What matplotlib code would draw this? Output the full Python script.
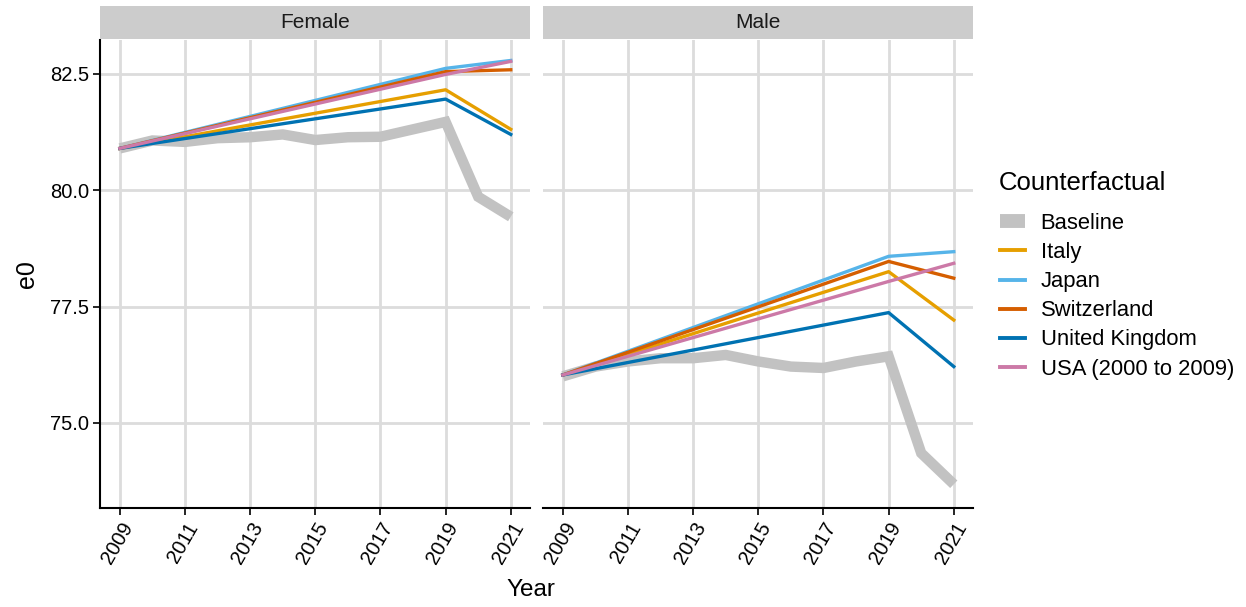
import matplotlib
matplotlib.use("Agg")
import matplotlib.pyplot as plt
from matplotlib.lines import Line2D
from matplotlib.patches import Rectangle

plt.rcParams['font.family'] = ['Liberation Sans', 'DejaVu Sans']

# Observed life expectancy at birth (baseline)
years = [2009, 2010, 2011, 2012, 2013, 2014, 2015, 2016, 2017, 2018, 2019, 2020, 2021]
baseline_female = [80.90, 81.07, 81.04, 81.12, 81.14, 81.20, 81.08, 81.14, 81.15, 81.31, 81.47, 79.86, 79.43]
baseline_male = [76.00, 76.21, 76.32, 76.39, 76.39, 76.46, 76.32, 76.21, 76.18, 76.32, 76.43, 74.35, 73.68]

# Counterfactual trajectories
cf_years = [2009, 2019, 2021]
countries = ["Italy", "Japan", "Switzerland", "United Kingdom", "USA (2000 to 2009)"]
colors = ["#E69F00", "#56B4E9", "#D55E00", "#0072B2", "#CC79A7"]

cf_female = {
    "Italy": [80.90, 82.16, 81.31],
    "Japan": [80.90, 82.62, 82.79],
    "Switzerland": [80.90, 82.55, 82.59],
    "United Kingdom": [80.90, 81.96, 81.20],
    "USA (2000 to 2009)": [80.90, 82.49, 82.77],
}
cf_male = {
    "Italy": [76.03, 78.25, 77.21],
    "Japan": [76.03, 78.58, 78.68],
    "Switzerland": [76.03, 78.47, 78.11],
    "United Kingdom": [76.03, 77.37, 76.21],
    "USA (2000 to 2009)": [76.03, 78.04, 78.43],
}

panels = [("Female", baseline_female, cf_female), ("Male", baseline_male, cf_male)]

W, H = 1246, 607
fig = plt.figure(figsize=(W / 100, H / 100), dpi=100)

grid_col = "#DCDCDC"
base_col = "#C2C2C2"
xticks = [2009, 2011, 2013, 2015, 2017, 2019, 2021]
yticks = [75.0, 77.5, 80.0, 82.5]

lefts = [100, 543]
pw = 430
top, bottom = 40, 508

for i, (name, base, cf) in enumerate(panels):
    ax = fig.add_axes([lefts[i] / W, (H - bottom) / H, pw / W, (bottom - top) / H])
    ax.set_xlim(2008.39, 2021.59)
    ax.set_ylim(73.17, 83.23)
    ax.set_xticks(xticks)
    ax.set_yticks(yticks)
    ax.grid(True, color=grid_col, linewidth=2.0)
    ax.set_axisbelow(True)
    for s in ["top", "right"]:
        ax.spines[s].set_visible(False)
    ax.spines["bottom"].set_linewidth(1.5)
    ax.spines["left"].set_linewidth(1.5)
    ax.tick_params(axis="both", length=5, width=1.2, color="black",
                   labelsize=14.5, labelcolor="black", pad=3)
    ax.set_xticklabels([str(t) for t in xticks], rotation=60, ha="right",
                       rotation_mode="anchor")
    if i == 0:
        ax.set_yticklabels([f"{t:.1f}" for t in yticks])
    else:
        ax.spines["left"].set_visible(False)
        ax.tick_params(axis="y", length=0, labelleft=False)

    ax.plot(years, base, color=base_col, linewidth=7.5, solid_capstyle="butt",
            solid_joinstyle="miter", zorder=2)
    for c, col in zip(countries, colors):
        ax.plot(cf_years, cf[c], color=col, linewidth=2.4, zorder=3)

    # facet strip
    fig.patches.append(Rectangle((lefts[i] / W, (H - 39) / H), pw / W, 33 / H,
                                 transform=fig.transFigure, facecolor="#CCCCCC",
                                 edgecolor="none"))
    fig.text((lefts[i] + pw / 2) / W, (H - 22.5) / H, name, ha="center",
             va="center", fontsize=15, color="#1A1A1A")

fig.text(27 / W, (H - 274) / H, "e0", rotation=90, ha="center", va="center", fontsize=18)
fig.text(531 / W, (H - 590) / H, "Year", ha="center", va="center", fontsize=17.5)

# legend
fig.text(999 / W, (H - 183) / H, "Counterfactual", ha="left", va="center", fontsize=18.5)
handles = [Line2D([], [], color=base_col, linewidth=10, solid_capstyle="butt")]
handles += [Line2D([], [], color=col, linewidth=2.8) for col in colors]
labels = ["Baseline"] + countries
fig.legend(handles, labels, loc="upper left",
           bbox_to_anchor=(1000 / W, (H - 213) / H), frameon=False,
           fontsize=15.8, handlelength=1.15, handletextpad=0.7,
           labelspacing=0.37, borderaxespad=0, borderpad=0)

fig.savefig("out.png", dpi=100)
